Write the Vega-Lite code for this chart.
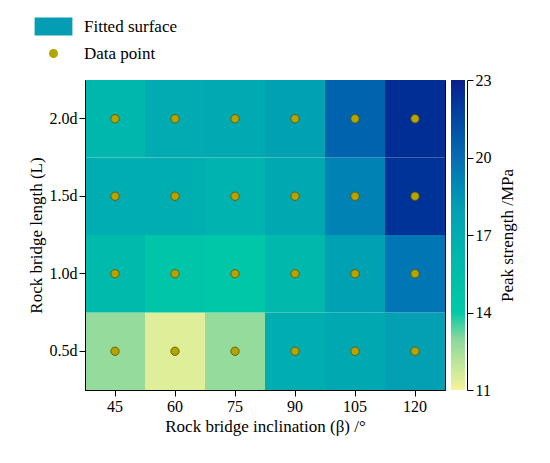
{
  "$schema": "https://vega.github.io/schema/vega-lite/v6.json",
  "width": 360,
  "height": 310,
  "autosize": {"type": "none"},
  "padding": {"left": 85, "top": 80, "right": 105, "bottom": 73},
  "background": "white",
  "config": {
    "font": "Liberation Serif",
    "view": {"stroke": "black", "strokeWidth": 1},
    "axis": {
      "labelFont": "Liberation Serif",
      "labelFontSize": 16,
      "labelColor": "black",
      "titleFont": "Liberation Serif",
      "titleFontSize": 17,
      "titleFontWeight": "normal",
      "titleColor": "black",
      "domainColor": "black",
      "tickColor": "black",
      "tickSize": 6,
      "grid": false
    },
    "legend": {
      "labelFont": "Liberation Serif",
      "labelColor": "black",
      "titleFont": "Liberation Serif",
      "titleFontWeight": "normal",
      "titleColor": "black"
    }
  },
  "data": {
    "values": [
      {"beta": 45, "L": "0.5d", "strength": 12.8, "fitted": 12.8},
      {"beta": 60, "L": "0.5d", "strength": 11.5, "fitted": 11.4},
      {"beta": 75, "L": "0.5d", "strength": 12.4, "fitted": 12.8},
      {"beta": 90, "L": "0.5d", "strength": 16.7, "fitted": 16.9},
      {"beta": 105, "L": "0.5d", "strength": 17.1, "fitted": 17.3},
      {"beta": 120, "L": "0.5d", "strength": 18.0, "fitted": 18.0},
      {"beta": 45, "L": "1.0d", "strength": 15.9, "fitted": 15.9},
      {"beta": 60, "L": "1.0d", "strength": 14.3, "fitted": 14.5},
      {"beta": 75, "L": "1.0d", "strength": 14.2, "fitted": 14.3},
      {"beta": 90, "L": "1.0d", "strength": 15.8, "fitted": 16.0},
      {"beta": 105, "L": "1.0d", "strength": 17.9, "fitted": 17.9},
      {"beta": 120, "L": "1.0d", "strength": 19.6, "fitted": 19.6},
      {"beta": 45, "L": "1.5d", "strength": 17.0, "fitted": 17.0},
      {"beta": 60, "L": "1.5d", "strength": 16.9, "fitted": 16.9},
      {"beta": 75, "L": "1.5d", "strength": 16.4, "fitted": 16.6},
      {"beta": 90, "L": "1.5d", "strength": 17.3, "fitted": 17.3},
      {"beta": 105, "L": "1.5d", "strength": 19.0, "fitted": 19.2},
      {"beta": 120, "L": "1.5d", "strength": 22.3, "fitted": 22.3},
      {"beta": 45, "L": "2.0d", "strength": 16.2, "fitted": 16.2},
      {"beta": 60, "L": "2.0d", "strength": 17.1, "fitted": 17.1},
      {"beta": 75, "L": "2.0d", "strength": 17.2, "fitted": 17.2},
      {"beta": 90, "L": "2.0d", "strength": 17.7, "fitted": 17.9},
      {"beta": 105, "L": "2.0d", "strength": 20.4, "fitted": 20.4},
      {"beta": 120, "L": "2.0d", "strength": 22.5, "fitted": 22.5}
    ]
  },
  "resolve": {"scale": {"y": "independent"}, "axis": {"y": "independent"}},
  "layer": [
    {
      "layer": [
        {
          "mark": {"type": "rect"},
          "encoding": {
            "x": {
              "field": "beta",
              "type": "ordinal",
              "title": "Rock bridge inclination (β) /°",
              "scale": {"paddingInner": 0, "paddingOuter": 0},
              "axis": {"labelAngle": 0}
            },
            "y": {
              "field": "L",
              "type": "ordinal",
              "sort": ["2.0d", "1.5d", "1.0d", "0.5d"],
              "title": "Rock bridge length (L)",
              "scale": {"paddingInner": 0, "paddingOuter": 0}
            },
            "fill": {
              "field": "fitted",
              "type": "quantitative",
              "title": null,
              "scale": {
                "type": "linear",
                "domain": [11, 12.5, 14, 16, 18, 20, 23],
                "range": ["#f4f39a", "#a9df9e", "#03c9a7", "#00b9ac", "#03a0b3", "#0a6cb0", "#0b1f8b"]
              },
              "legend": {
                "orient": "none",
                "legendX": 366,
                "legendY": 0,
                "direction": "vertical",
                "gradientLength": 310,
                "gradientThickness": 14,
                "gradientStrokeWidth": 0,
                "labelOpacity": 0,
                "labelFontSize": 1,
                "labelOffset": 0
              }
            },
            "tooltip": [
              {"field": "beta", "title": "β (°)"},
              {"field": "L", "title": "L"},
              {"field": "fitted", "title": "Fitted (MPa)"}
            ]
          }
        },
        {
          "mark": {"type": "point", "filled": true, "size": 70, "stroke": "#5a5000", "strokeWidth": 0.8, "opacity": 1},
          "encoding": {
            "x": {"field": "beta", "type": "ordinal"},
            "y": {"field": "L", "type": "ordinal", "sort": ["2.0d", "1.5d", "1.0d", "0.5d"]},
            "color": {
              "datum": "Data point",
              "scale": {
                "domain": ["Fitted surface", "Data point"],
                "range": ["#049db4", "#b3a400"]
              },
              "legend": {
                "orient": "none",
                "legendX": -40,
                "legendY": -62,
                "title": null,
                "symbolSize": 81,
                "symbolStrokeWidth": 0,
                "labelOffset": 22,
                "labelFontSize": 17,
                "rowPadding": 8
              }
            },
            "shape": {
              "datum": "Data point",
              "scale": {
                "domain": ["Fitted surface", "Data point"],
                "range": ["M-4.2,-2H4.2V2H-4.2Z", "circle"]
              },
              "legend": {
                "orient": "none",
                "legendX": -40,
                "legendY": -62,
                "title": null,
                "symbolSize": 81,
                "symbolStrokeWidth": 0,
                "labelOffset": 22,
                "labelFontSize": 17,
                "rowPadding": 8
              }
            },
            "tooltip": [
              {"field": "beta", "title": "β (°)"},
              {"field": "L", "title": "L"},
              {"field": "strength", "title": "Peak strength (MPa)"}
            ]
          }
        }
      ]
    },
    {
      "mark": {"type": "point", "opacity": 0},
      "encoding": {
        "x": {"field": "beta", "type": "ordinal"},
        "y": {
          "field": "strength",
          "type": "quantitative",
          "title": "Peak strength /MPa",
          "scale": {"domain": [11, 23], "nice": false, "zero": false},
          "axis": {
            "orient": "right",
            "offset": 22,
            "values": [11, 14, 17, 20, 23],
            "titleAngle": -90,
            "titleBaseline": "top",
            "titlePadding": 8
          }
        }
      }
    }
  ]
}
